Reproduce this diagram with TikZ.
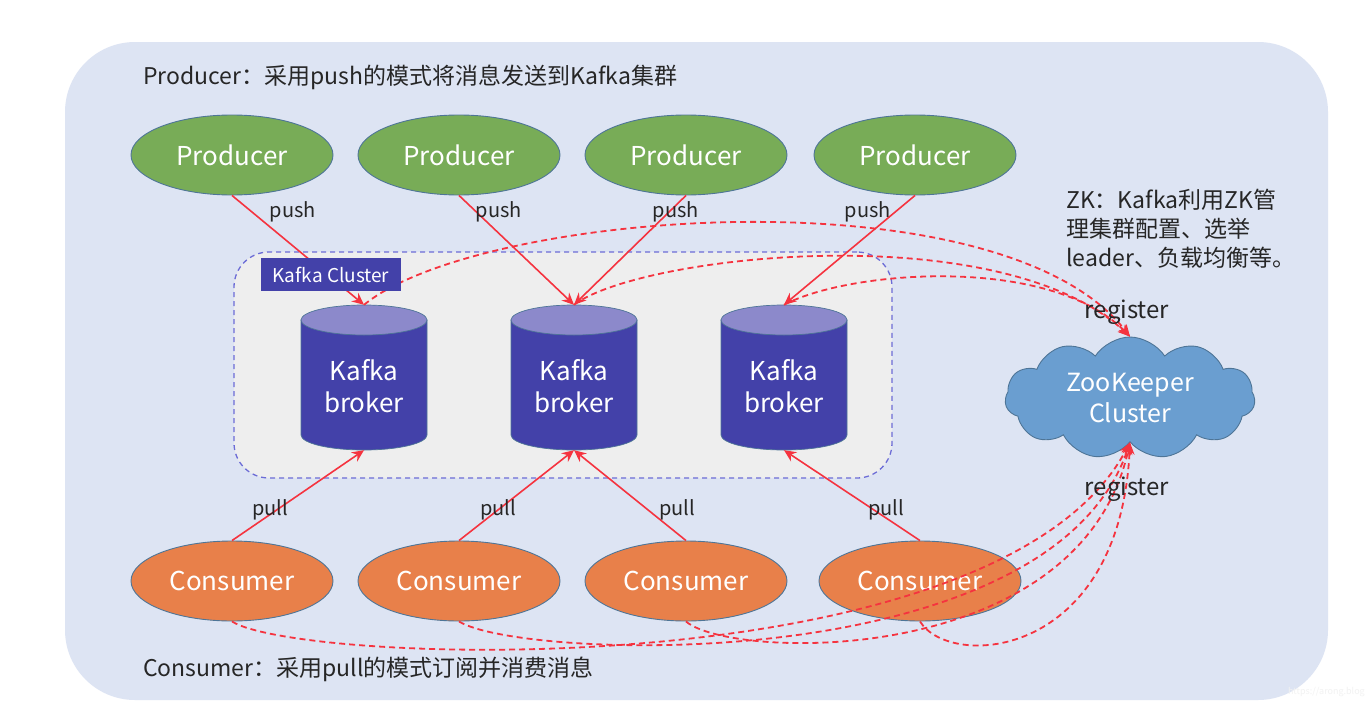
\documentclass[tikz,border=0pt]{standalone}
\usepackage{fontspec}
\setmainfont{Noto Sans CJK SC}
\usetikzlibrary{shapes.geometric,shapes.symbols,arrows.meta}
\definecolor{bgblue}{HTML}{DDE4F3}
\definecolor{prodgreen}{HTML}{78AC57}
\definecolor{consorange}{HTML}{E8804A}
\definecolor{edgeblue}{HTML}{4E7597}
\definecolor{brokerbody}{HTML}{4341A9}
\definecolor{brokertop}{HTML}{8C89CB}
\definecolor{zkblue}{HTML}{6A9ED0}
\definecolor{clusterfill}{HTML}{EEEEEE}
\definecolor{clusteredge}{HTML}{6C6CD6}
\definecolor{linkred}{HTML}{F5333F}
\definecolor{textdark}{HTML}{262626}
\tikzset{
  fs/.style={font=\fontsize{#1}{30}\selectfont},
  prod/.style={ellipse, minimum width=202pt, minimum height=80pt, inner sep=0pt,
    fill=prodgreen, draw=edgeblue, line width=0.9pt, text=white, fs=26},
  cons/.style={prod, fill=consorange},
  brokerbox/.style={minimum width=126pt, minimum height=145pt, inner sep=0pt},
  lbl/.style={text=textdark, inner sep=0pt, fs=20},
  reglbl/.style={text=textdark, inner sep=0pt, fs=24},
  link/.style={draw=linkred, line width=1.6pt, -{Stealth[length=12pt,width=11pt,inset=4pt]}},
  zklink/.style={draw=linkred, line width=1.8pt, dash pattern=on 6pt off 4pt,
    -{Stealth[length=12pt,width=10pt,inset=4pt]}},
}
\begin{document}
\begin{tikzpicture}[x=1pt,y=-1pt]
\useasboundingbox (0,0) rectangle (1368,728);
\fill[white] (0,0) rectangle (1368,728);
\fill[bgblue, rounded corners=70pt] (65,42) rectangle (1328,700);

% cluster box
\node[draw=clusteredge, fill=clusterfill, line width=1.3pt, dash pattern=on 5pt off 4pt,
  rounded corners=35pt, minimum width=658pt, minimum height=226pt] (cluster) at (563,365) {};

% titles
\node[anchor=west, text=textdark, inner sep=0pt, fs=23] (ttop) at (143,77) {Producer：采用push的模式将消息发送到Kafka集群};
\node[anchor=west, text=textdark, inner sep=0pt, fs=23] (tbot) at (143,669) {Consumer：采用pull的模式订阅并消费消息};
\node[anchor=north west, text=textdark, inner sep=0pt, align=left, font=\fontsize{23}{29}\selectfont] (zktext) at (1066,189)
  {ZK：Kafka利用ZK管\\理集群配置、选举\\leader、负载均衡等。};

% producers and consumers
\node[prod] (p1) at (232,155) {Producer};
\node[prod] (p2) at (459,155) {Producer};
\node[prod] (p3) at (686,155) {Producer};
\node[prod] (p4) at (915,155) {Producer};
\node[cons] (c1) at (232,581) {Consumer};
\node[cons] (c2) at (459,581) {Consumer};
\node[cons] (c3) at (686,581) {Consumer};
\node[cons] (c4) at (920,581) {Consumer};

% brokers
\foreach \n/\x in {1/364,2/574,3/784}{
  \node[brokerbox] (b\n) at (\x,377.5) {};
  \filldraw[fill=brokerbody, draw=edgeblue, line width=0.7pt]
    (\x-63,320) -- (\x-63,435) arc[start angle=180, end angle=360, x radius=63pt, y radius=15pt]
    -- (\x+63,320) -- cycle;
  \filldraw[fill=brokertop, draw=edgeblue, line width=0.7pt] (\x,320) ellipse[x radius=63pt, y radius=15pt];
  \node[text=white, align=center, font=\fontsize{26}{32}\selectfont, inner sep=0pt] (bt\n) at (\x,386) {Kafka\\broker};
}

% zookeeper cloud
\node[cloud, cloud puffs=11, cloud puff arc=115, aspect=2.1, minimum width=250pt, minimum height=122pt,
  inner sep=0pt, fill=zkblue, draw=edgeblue, line width=0.9pt, text=white, align=center,
  font=\fontsize{25}{31}\selectfont] (zk) at (1130,398) {ZooKeeper\\Cluster};

% push / pull links
\draw[link] (p1.south) -- (b1.north);
\draw[link] (p2.south) -- (b2.north);
\draw[link] (p3.south) -- (b2.north);
\draw[link] (p4.south) -- (b3.north);
\draw[link] (c1.north) -- (b1.south);
\draw[link] (c2.north) -- (b2.south);
\draw[link] (c3.north) -- (b2.south);
\draw[link] (c4.north) -- (b3.south);

% register links
\draw[zklink] (b1.north) .. controls (480,210) and (1000,170) .. (zk.north);
\draw[zklink] (b2.north) .. controls (640,255) and (1000,215) .. (zk.north);
\draw[zklink] (b3.north) .. controls (850,270) and (1050,255) .. (zk.north);
\draw[zklink] (c1.south) .. controls (300,665) and (1000,690) .. (zk.south);
\draw[zklink] (c2.south) .. controls (520,660) and (1050,680) .. (zk.south);
\draw[zklink] (c3.south) .. controls (730,660) and (1080,670) .. (zk.south);
\draw[zklink] (c4.south) .. controls (950,670) and (1120,660) .. (zk.south);

% Kafka Cluster label
\node[fill=brokerbody, text=white, minimum width=140pt, minimum height=33pt, inner sep=0pt, fs=19] (kc) at (331,274.5) {Kafka Cluster};

% labels
\node[lbl] (push1) at (293,212) {push};
\node[lbl] (push2) at (499,212) {push};
\node[lbl] (push3) at (676,212) {push};
\node[lbl] (push4) at (868,212) {push};
\node[lbl] (pull1) at (270,510) {pull};
\node[lbl] (pull2) at (498,510) {pull};
\node[lbl] (pull3) at (677,510) {pull};
\node[lbl] (pull4) at (886,510) {pull};
\node[reglbl] (reg1) at (1127,312) {register};
\node[reglbl] (reg2) at (1127,489) {register};

% watermark
\node[anchor=east, text=white!90!gray, inner sep=0pt, fs=9] (wm) at (1365,692) {https://arong.blog};
\end{tikzpicture}
\end{document}
